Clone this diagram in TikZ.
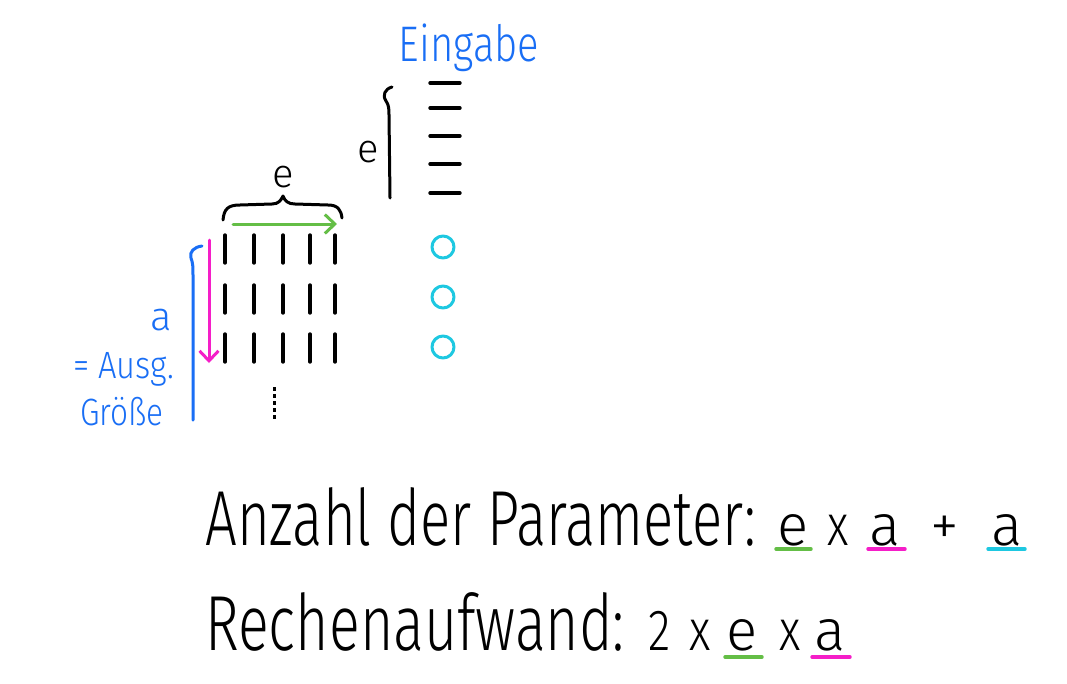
\documentclass[tikz,border=0pt]{standalone}
\usepackage{fontspec}
\setmainfont{Fira Sans Light}
\usetikzlibrary{arrows.meta}
\usepackage{xcolor}

\definecolor{inkblue}{RGB}{25,110,245}
\definecolor{inkpink}{RGB}{245,30,200}
\definecolor{inkgreen}{RGB}{100,190,70}
\definecolor{inkcyan}{RGB}{30,200,225}

\newcommand{\squash}[2]{\scalebox{#1}[1]{#2}}

\tikzset{
  ink/.style={line width=3.4pt, line cap=round, line join=round},
  hand/.style={inner sep=0pt, anchor=base},
  big/.style={font=\fontsize{78}{80}\selectfont},
  mid/.style={font=\fontsize{58}{60}\selectfont},
  small/.style={font=\fontsize{40}{42}\selectfont},
  barb/.style={-{Straight Barb[length=10pt,width=19pt,line width=3pt]}},
}

\begin{document}
\begin{tikzpicture}[x=1pt,y=-1pt]
\useasboundingbox (0,0) rectangle (1067,683);
\fill[white] (0,0) rectangle (1067,683);

% --- Eingabe column ---
\node[hand, font=\fontsize{50}{52}\selectfont, text=inkblue] (eingabe) at (469,61) {\squash{0.8}{Eingabe}};
\foreach \y in {83,108,136,164,193} \draw[ink] (430,\y) -- (460,\y);
\draw[ink, line width=3pt] (392,87) .. controls (385,89) and (382,95) .. (386,101)
  .. controls (389,105) and (389,110) .. (389,115) -- (390,198);
\node[hand, small] (ein) at (368,162) {e};

% --- Ausgabe circles ---
\foreach \y in {247,297,347} \draw[ink, line width=3pt, inkcyan] (443,\y) circle (11);

% --- weight matrix ---
\foreach \x in {225,254,283,310,335}
  \foreach \y in {235,285,334} \draw[ink] (\x,\y) -- (\x,\y+28);
\draw[line width=3pt, dash pattern=on 4pt off 3pt] (274,387) -- (274,421);

% horizontal brace e
\draw[ink, line width=3pt] (223,220) .. controls (224,209) and (228,205) .. (240,205)
  -- (272,204) .. controls (279,204) and (281,200) .. (283,196)
  .. controls (285,201) and (288,204) .. (295,204)
  -- (328,205) .. controls (338,205) and (341,210) .. (342,218);
\node[hand, small] (ecol) at (283,187) {e};
\draw[ink, line width=3pt, inkgreen, barb] (233,224) -- (337,224);

% vertical brace a
\draw[ink, line width=3pt, inkpink, barb] (209,240) -- (209,363);
\draw[ink, line width=3pt, inkblue] (202,246) .. controls (194,247) and (189,252) .. (191,258)
  .. controls (193,263) and (193,268) .. (193,275) -- (193,420);
\node[hand, small, text=inkblue] (arow) at (161,330) {a};
\node[hand, font=\fontsize{38}{40}\selectfont, text=inkblue, anchor=base west] (ausg) at (73,378) {\squash{0.86}{= Ausg.}};
\node[hand, font=\fontsize{38}{40}\selectfont, text=inkblue, anchor=base west] (groesse) at (80,425) {\squash{0.83}{Größe}};

% --- Anzahl der Parameter ---
\node[hand, big, anchor=base west] (anzahl) at (205,545) {\squash{0.722}{Anzahl der Parameter:}};
\node[hand, mid] (pe) at (793,545) {e};
\node[hand, mid] (px) at (838,545) {\squash{0.8}{x}};
\node[hand, mid] (pa) at (885,545) {a};
\node[hand, mid] (pplus) at (945,545) {+};
\node[hand, mid] (pb) at (1007,545) {a};
\draw[ink, inkgreen] (776,549) -- (811,549);
\draw[ink, inkpink] (868,549) -- (905,549);
\draw[ink, inkcyan] (988,549) -- (1025,549);

% --- Rechenaufwand ---
\node[hand, big, anchor=base west] (rechen) at (205,650) {\squash{0.735}{Rechenaufwand:}};
\node[hand, mid] (rtwo) at (660,650) {\squash{0.8}{2}};
\node[hand, mid] (rx) at (700,650) {\squash{0.8}{x}};
\node[hand, mid] (re) at (742,650) {e};
\node[hand, mid] (ry) at (790,650) {\squash{0.8}{x}};
\node[hand, mid] (ra) at (830,650) {a};
\draw[ink, inkgreen] (725,657) -- (762,657);
\draw[ink, inkpink] (812,657) -- (850,657);
\end{tikzpicture}
\end{document}
